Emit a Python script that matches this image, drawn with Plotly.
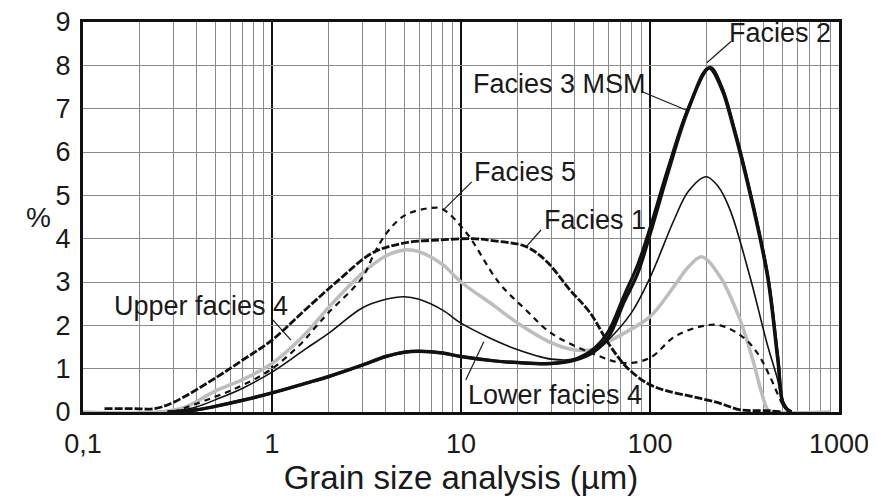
import math

import plotly.graph_objects as go

# grain size (µm) and percentage for each facies
f1_x = [0.13, 0.18, 0.24, 0.3, 0.5, 0.7, 1, 1.5, 2.26, 3.4, 5, 7.7, 11.5, 15, 22, 28, 38, 48, 61, 75, 96, 120, 170, 235, 300, 420, 500]
f1_y = [0.08, 0.08, 0.08, 0.22, 0.78, 1.2, 1.66, 2.36, 3.05, 3.67, 3.9, 3.97, 4.0, 3.95, 3.82, 3.5, 2.8, 2.3, 1.55, 1.04, 0.67, 0.5, 0.35, 0.2, 0.05, 0.03, 0]

f5_x = [0.3, 0.5, 0.7, 1, 1.44, 1.7, 2, 3, 3.55, 4.16, 5.1, 7, 8, 10.7, 15.9, 22, 30, 49, 73, 100, 134, 184, 235, 310, 370, 432, 500, 540]
f5_y = [0, 0.35, 0.62, 1.0, 1.6, 1.96, 2.3, 3.1, 3.74, 4.2, 4.55, 4.71, 4.68, 4.13, 2.98, 2.36, 1.82, 1.36, 1.13, 1.25, 1.73, 1.97, 2.0, 1.73, 1.36, 0.81, 0.2, 0]

up4_x = [0.1, 0.25, 0.35, 0.5, 0.7, 1, 1.5, 2, 3, 4, 5, 6, 8, 10, 15, 20, 30, 40, 50, 60, 73, 100, 134, 160, 188, 235, 300, 350, 390, 420, 450, 900]
up4_y = [0, 0, 0.12, 0.48, 0.75, 1.12, 1.8, 2.42, 3.2, 3.6, 3.74, 3.7, 3.4, 3.0, 2.45, 2.05, 1.6, 1.43, 1.45, 1.62, 1.82, 2.2, 2.9, 3.35, 3.58, 3.12, 2.12, 1.2, 0.44, 0.05, 0, 0]

lo4_x = [0.3, 0.4, 0.5, 0.7, 1, 1.5, 2, 3, 4, 5, 6, 8, 10, 14, 19, 25, 30, 40, 50, 60, 80, 100, 134, 160, 198, 230, 265, 338, 415, 470, 505, 550]
lo4_y = [0, 0.12, 0.28, 0.55, 0.92, 1.45, 1.82, 2.4, 2.6, 2.66, 2.6, 2.35, 2.05, 1.72, 1.47, 1.3, 1.22, 1.22, 1.38, 1.66, 2.3, 3.1, 4.43, 5.1, 5.43, 5.2, 4.67, 3.12, 1.6, 0.8, 0.27, 0]

f3_x = [0.28, 0.4, 0.5, 0.7, 1, 1.5, 2, 3, 4, 5, 6, 8, 10, 15, 20, 30, 40, 50, 60, 73, 86, 100, 124, 159, 205, 240, 275, 338, 420, 475, 510, 560]
f3_y = [0, 0.05, 0.13, 0.27, 0.44, 0.66, 0.82, 1.08, 1.28, 1.38, 1.4, 1.36, 1.28, 1.18, 1.14, 1.12, 1.2, 1.38, 1.72, 2.55, 3.2, 4.1, 5.5, 6.97, 7.94, 7.45, 6.6, 5.05, 3.1, 1.2, 0.15, 0]

f2_x = [0.28, 0.4, 0.5, 0.7, 1, 1.5, 2, 3, 4, 5, 6, 8, 10, 15, 20, 30, 40, 50, 60, 73, 86, 100, 124, 159, 208, 240, 275, 338, 420, 475, 510, 560]
f2_y = [0, 0.05, 0.13, 0.27, 0.44, 0.66, 0.82, 1.08, 1.28, 1.38, 1.4, 1.36, 1.28, 1.18, 1.14, 1.12, 1.22, 1.45, 1.85, 2.7, 3.4, 4.25, 5.6, 7.0, 7.95, 7.5, 6.65, 5.1, 3.15, 1.25, 0.17, 0]

tick_vals = [0.1, 1, 10, 100, 1000]
tick_text = ["0,1", "1", "10", "100", "1000"]

FONT = "Liberation Sans, Arial, sans-serif"

fig = go.Figure()

fig.add_trace(go.Scatter(x=up4_x, y=up4_y, name="Upper facies 4", mode="lines",
                         line=dict(color="#bdbdbd", width=3.5, shape="spline")))
fig.add_trace(go.Scatter(x=f1_x, y=f1_y, name="Facies 1", mode="lines",
                         line=dict(color="#111", width=2.8, dash="8px,2px", shape="spline")))
fig.add_trace(go.Scatter(x=f5_x, y=f5_y, name="Facies 5", mode="lines",
                         line=dict(color="#111", width=2.2, dash="6px,5px", shape="spline")))
fig.add_trace(go.Scatter(x=lo4_x, y=lo4_y, name="Lower facies 4", mode="lines",
                         line=dict(color="#111", width=1.6, shape="spline")))
fig.add_trace(go.Scatter(x=f2_x, y=f2_y, name="Facies 2", mode="lines",
                         line=dict(color="#111", width=3, shape="spline")))
fig.add_trace(go.Scatter(x=f3_x, y=f3_y, name="Facies 3 MSM", mode="lines",
                         line=dict(color="#111", width=3.5, shape="spline")))

# labels: (text, text x, text y, xanchor, pointer from, pointer to)
labels = [
    ("Facies 2", 490, 8.75, "center", (268, 8.55), (200, 8.06)),
    ("Facies 3 MSM", 11.3, 7.57, "left", (91, 7.39), (155, 6.97)),
    ("Facies 5", 11.4, 5.54, "left", (11.4, 5.31), (8.1, 4.67)),
    ("Facies 1", 26.8, 4.43, "left", (26.5, 4.2), (22.1, 3.81)),
    ("Upper facies 4", 0.142, 2.45, "left", (0.988, 2.17), (1.26, 1.66)),
    ("Lower facies 4", 10.6, 0.39, "left", (10.6, 0.74), (13.2, 1.62)),
]
for text, tx, ty, anchor, p0, p1 in labels:
    fig.add_annotation(x=math.log10(tx), y=ty, xref="x", yref="y", text=text,
                       showarrow=False, xanchor=anchor, yanchor="middle",
                       font=dict(family=FONT, size=27, color="#1a1a1a"))
    fig.add_shape(type="line", xref="x", yref="y", x0=p0[0], y0=p0[1], x1=p1[0], y1=p1[1],
                  line=dict(color="#1a1a1a", width=1.2))

fig.add_annotation(x=-0.078, y=0.5, xref="paper", yref="paper", text="%",
                   showarrow=False, font=dict(family=FONT, size=28, color="#1a1a1a"))

minor_vals = [m * 10 ** e for e in range(-1, 3) for m in range(2, 10)]

fig.update_xaxes(type="log", range=[-1, 3], tickmode="array", tickvals=tick_vals, ticktext=tick_text,
                 showgrid=True, gridcolor="#111", gridwidth=2, automargin=False, ticklabelstandoff=6,
                 ticklabeloverflow="allow",
                 minor=dict(tickmode="array", tickvals=minor_vals, showgrid=True, gridcolor="#8a8a8a", gridwidth=1),
                 showline=True, mirror=True, linecolor="#111", linewidth=3, zeroline=False,
                 tickfont=dict(family=FONT, size=27, color="#1a1a1a"),
                 title=dict(text="Grain size analysis (µm)", font=dict(family=FONT, size=33, color="#1a1a1a"), standoff=8))
fig.update_yaxes(range=[0, 9], dtick=1, showgrid=True, gridcolor="#8a8a8a", gridwidth=1, automargin=False,
                 ticklabelstandoff=4, ticklabeloverflow="allow",
                 showline=True, mirror=True, linecolor="#111", linewidth=3, zeroline=False,
                 tickfont=dict(family=FONT, size=27, color="#1a1a1a"))

# the page body keeps its default 8px margin, so the figure is drawn 8px smaller
fig.update_layout(width=868, height=491, margin=dict(l=75, r=37, t=14, b=87),
                  plot_bgcolor="white", paper_bgcolor="white", showlegend=False)

fig.write_html("out.html")
